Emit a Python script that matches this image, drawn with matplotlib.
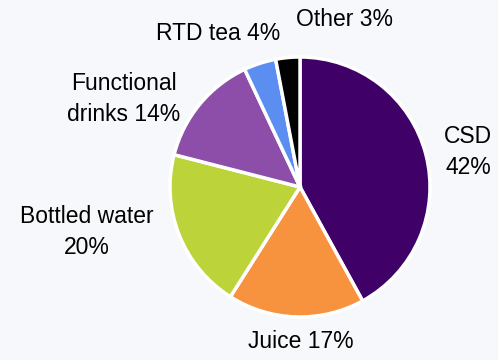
import matplotlib
matplotlib.use("Agg")
import matplotlib.pyplot as plt

# Beverage market share by category
categories = ["CSD", "Juice", "Bottled water", "Functional drinks", "RTD tea", "Other"]
shares = [42, 17, 20, 14, 4, 3]
label_texts = ["CSD\n42%", "Juice 17%", "Bottled water\n20%",
               "Functional\ndrinks 14%", "RTD tea 4%", "Other 3%"]
colors = ["#3f0068", "#f7923f", "#bcd43a", "#8c4ea8", "#5b8ef0", "#000000"]

W, H = 498, 360
fig = plt.figure(figsize=(W / 100, H / 100), dpi=100)
fig.patch.set_facecolor("#f6f8fb")
ax = fig.add_axes([0, 0, 1, 1])

cx, cy, r = 300, H - 187, 130
ax.pie(shares, colors=colors, startangle=90, counterclock=False,
       center=(cx, cy), radius=r, frame=True,
       wedgeprops=dict(edgecolor="white", linewidth=2.5))
ax.set_xlim(0, W)
ax.set_ylim(0, H)
ax.set_aspect("equal")
ax.axis("off")

# label anchor points (pixel space, y measured from top)
label_pos = [(468, 152), (301, 342), (87, 232), (124, 99), (218, 33), (345, 20)]
for text, (x, y) in zip(label_texts, label_pos):
    ax.text(x, H - y, text, ha="center", va="center", fontsize=16.5,
            family="Liberation Sans", color="#000000", linespacing=1.45)

fig.savefig("out.png", dpi=100, facecolor=fig.get_facecolor())
